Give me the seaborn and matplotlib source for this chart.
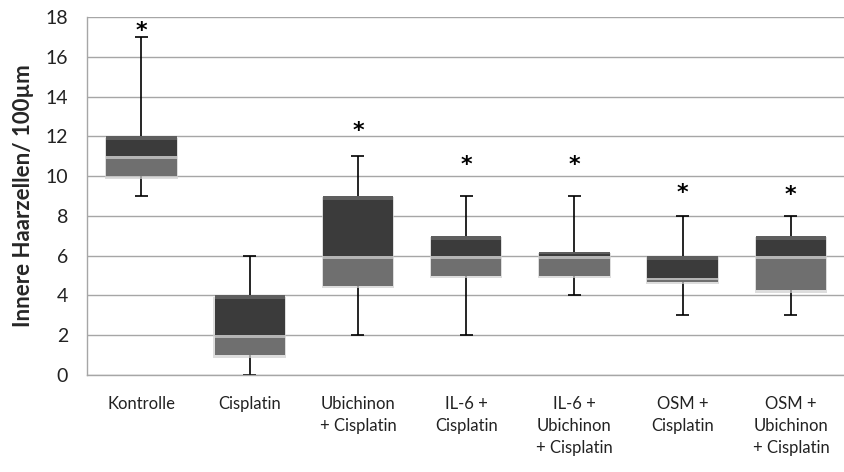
import matplotlib
matplotlib.use("Agg")
import matplotlib.pyplot as plt
import seaborn as sns
import numpy as np

# ─── Data ───────────────────────────────────────────────────────────────────
categories = ["Kontrolle", "Cisplatin", "Ubichinon\n+ Cisplatin", "IL-6 +\nCisplatin",
              "IL-6 +\nUbichinon\n+ Cisplatin", "OSM +\nCisplatin", "OSM +\nUbichinon\n+ Cisplatin"]
whisker_low = [9, 0, 2, 2, 4, 3, 3]
q1 = [10, 1, 4.5, 5, 5, 4.7, 4.25]
median = [11, 2, 6, 6, 6, 4.9, 6]
q3 = [12, 4, 9, 7, 6.2, 6, 7]
whisker_high = [17, 6, 11, 9, 9, 8, 8]
star_y = [17.55, None, 12.5, 10.8, 10.8, 9.4, 9.3]

# ─── Style ──────────────────────────────────────────────────────────────────
sns.set_theme(style="white")
plt.rcParams["font.family"] = ["Lato", "DejaVu Sans"]

fig = plt.figure(figsize=(8.45, 4.72), dpi=100)
ax = fig.add_axes([0.1034, 0.2055, 0.8966, 0.7585])

BOX_W = 0.65
DARK, DARK_TOP = "#3b3b3b", "#5e5e5e"
LIGHT, LIGHT_TOP = "#6f6f6f", "#b4b4b4"

q1_a, med_a, q3_a = np.array(q1), np.array(median), np.array(q3)
x = np.arange(len(categories))

# whiskers (behind boxes)
ax.vlines(x, whisker_low, whisker_high, color="black", linewidth=1.2, zorder=2)
ax.hlines(whisker_low, x - 0.06, x + 0.06, color="black", linewidth=1.2, zorder=2)
ax.hlines(whisker_high, x - 0.06, x + 0.06, color="black", linewidth=1.2, zorder=2)

# soft shadow (offset down a little)
sns.barplot(x=categories, y=q3_a - q1_a + 0.08, bottom=q1_a - 0.14, color="#cfcfcf",
            width=BOX_W + 0.02, saturation=1, alpha=0.7, ax=ax, zorder=3, linewidth=0)
# upper part (median -> q3)
sns.barplot(x=categories, y=q3_a - med_a, bottom=med_a, color=DARK,
            width=BOX_W, saturation=1, ax=ax, zorder=4, linewidth=0)
# lower part (q1 -> median)
sns.barplot(x=categories, y=med_a - q1_a, bottom=q1_a, color=LIGHT,
            width=BOX_W, saturation=1, ax=ax, zorder=4, linewidth=0)
# bevel highlights
top_h = np.minimum(0.2, (q3_a - med_a) * 0.5)
sns.barplot(x=categories, y=top_h, bottom=q3_a - top_h, color=DARK_TOP,
            width=BOX_W, saturation=1, ax=ax, zorder=5, linewidth=0)
mid_h = np.minimum(0.15, (med_a - q1_a) * 0.5)
sns.barplot(x=categories, y=mid_h, bottom=med_a - mid_h, color=LIGHT_TOP,
            width=BOX_W, saturation=1, ax=ax, zorder=5, linewidth=0)

# significance stars
for i, sy in enumerate(star_y):
    if sy is not None:
        ax.text(i, sy - 0.25, "*", ha="center", va="center", fontsize=16, fontweight="bold",
                family="DejaVu Sans", color="black", zorder=6)

# ─── Axes ───────────────────────────────────────────────────────────────────
ax.set_xlim(-0.5, len(categories) - 0.5)
ax.set_ylim(0, 18)
ax.set_yticks(range(0, 19, 2))
ax.yaxis.grid(True, color="#a6a6a6", linewidth=1.0)
ax.set_axisbelow(True)
for side in ["top", "right"]:
    ax.spines[side].set_visible(False)
for side in ["left", "bottom"]:
    ax.spines[side].set_color("#a6a6a6")
    ax.spines[side].set_linewidth(1.0)
ax.tick_params(axis="y", length=0, pad=14, labelsize=14, labelcolor="#222222")
ax.tick_params(axis="x", length=0, pad=15, labelsize=12, labelcolor="#222222")
for lbl in ax.get_xticklabels():
    lbl.set_linespacing(1.45)
    lbl.set_verticalalignment("top")
ax.set_xlabel("")
ax.set_ylabel("Innere Haarzellen/ 100µm", fontsize=16, fontweight="bold", labelpad=8)

fig.savefig("out.png", dpi=100, facecolor="white")
